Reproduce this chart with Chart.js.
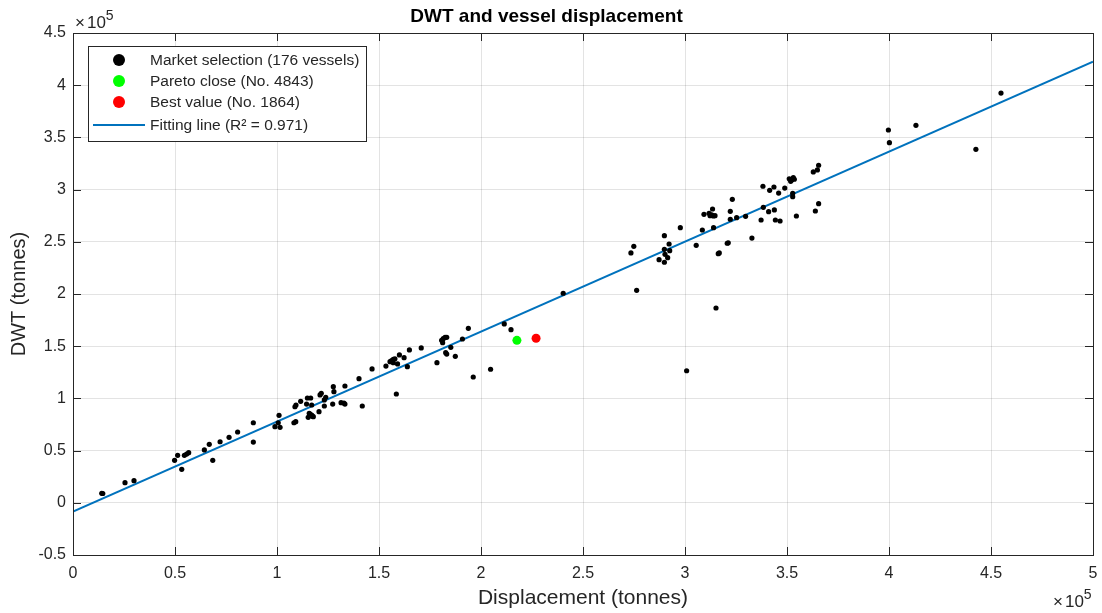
<!DOCTYPE html>
<html>
<head>
<meta charset="utf-8">
<script src="https://cdn.jsdelivr.net/npm/chart.js@4/dist/chart.umd.min.js"></script>
<style>
  html, body { margin: 0; padding: 0; background: #fff; }
  #wrap { width: 1102px; height: 613px; }
</style>
</head>
<body>
<div id="wrap"><canvas id="myChart"></canvas></div>
<script>
// market vessels, displacement and DWT in tonnes
const marketDisp = [
  14100, 14600, 25500, 29900, 49800, 51300, 53300, 54600, 55700, 56700,
  64400, 66800, 68500, 72100, 76500, 80700, 88400, 88400, 99000, 101000,
  101500, 100600, 108300, 109200, 108800, 109300, 111600, 114500, 114900, 116500,
  115800, 115300, 117000, 117800, 117000, 120600, 121100, 121700, 123200, 123900,
  123200, 127600, 127900, 127300, 131400, 133300, 133300, 116200, 117300, 132800,
  140200, 141800, 146600, 153400, 155400, 156200, 157000, 157800, 159100, 158500,
  160000, 162300, 163900, 164900, 170700, 178400, 180700, 181500, 182400, 183200,
  181200, 182700, 183200, 185200, 187400, 190900, 193800, 196200, 204700, 211400,
  214700, 157000, 240300, 276300, 273500, 274900, 287300, 289900, 289900, 290200,
  291500, 292200, 292500, 297700, 305500, 308500, 309300, 311800, 312300, 313100,
  313900, 314700, 313500, 314000, 316300, 316800, 320700, 321200, 322200, 322200,
  323200, 325300, 329700, 332800, 337300, 338200, 338400, 341000, 341500, 343600,
  343800, 344300, 345900, 346600, 348900, 351100, 351800, 352300, 353100, 353600,
  352800, 352800, 354600, 362900, 364900, 365500, 363900, 365500, 399700, 400200,
  413200, 442600, 454900, 315200, 300800, 289900
];
const marketDwt = [
  9100, 8900, 19300, 21200, 40700, 45500, 32100, 45500, 46700, 48000,
  50600, 56000, 40700, 58500, 62700, 67800, 76700, 58200, 72900, 83800,
  72300, 76700, 76700, 77700, 92000, 93700, 97200, 94600, 100400, 100400,
  85700, 81900, 84100, 82500, 93700, 87300, 103300, 104900, 98500, 101000,
  92700, 111200, 106400, 94600, 95900, 94600, 111900, 85000, 83000, 95500,
  118900, 92700, 128200, 131000, 135200, 136100, 137400, 138000, 133000, 104200,
  141600, 139000, 130400, 146400, 148300, 134200, 155600, 157200, 158500, 158500,
  153400, 143800, 142500, 148900, 140300, 156900, 167100, 120500, 127900, 171300,
  165800, 134200, 200700, 203500, 239300, 245700, 232900, 255900, 230400, 238000,
  234800, 247900, 241500, 263500, 246600, 261300, 276300, 277300, 275000, 275700,
  274700, 275000, 281400, 263500, 238600, 239300, 248600, 249000, 279200, 271600,
  290700, 273100, 274400, 253600, 270900, 303200, 283000, 278900, 299300, 302500,
  280500, 270900, 296700, 269900, 301500, 310400, 307900, 309200, 311400, 309900,
  296400, 293200, 274700, 316900, 318800, 323300, 279500, 286500, 357100, 344900,
  361600, 338600, 392500, 186600, 126500, 242800
];
const paretoDisp = [217600];
const paretoDwt = [155600];
const bestDisp = [227000];
const bestDwt = [157600];
// fitted line end points
const fitDisp = [0, 500000];
const fitDwt = [-8500, 422500];

const xTicks = [0, 50000, 100000, 150000, 200000, 250000, 300000, 350000, 400000, 450000, 500000];
const yTicks = [-50000, 0, 50000, 100000, 150000, 200000, 250000, 300000, 350000, 400000, 450000];

const labels = ['Market selection (176 vessels)', 'Pareto close (No. 4843)', 'Best value (No. 1864)', 'Fitting line (R\u00B2 = 0.971)'];

const toPts = (xs, ys) => xs.map((x, i) => ({x: x, y: ys[i]}));
const fmt = v => String(Math.round(v / 1e4) / 10);

const axisColor = '#262626';
const fontFam = '"Liberation Sans", Arial, Helvetica, sans-serif';

// draws "x10^5" with its left edge at x
function drawExp(c, x, base) {
  c.font = '17px ' + fontFam;
  c.fillText('\u00D7', x, base);
  const w1 = c.measureText('\u00D7').width + 2;
  c.fillText('10', x + w1, base);
  const w2 = c.measureText('10').width;
  c.font = '14px ' + fontFam;
  c.fillText('5', x + w1 + w2, base - 8);
}

// MATLAB-like box, inward ticks, exponent labels and legend
const matlabBits = {
  id: 'matlabBits',
  afterDraw(chart) {
    const c = chart.ctx;
    const a = chart.chartArea;
    const xs = chart.scales.x, ys = chart.scales.y;
    c.save();
    c.strokeStyle = axisColor;
    c.lineWidth = 1;
    c.beginPath();
    c.rect(Math.round(a.left) + 0.5, Math.round(a.top) + 0.5, Math.round(a.right - a.left), Math.round(a.bottom - a.top));
    c.stroke();
    c.beginPath();
    xTicks.forEach(v => {
      const px = Math.round(xs.getPixelForValue(v)) + 0.5;
      c.moveTo(px, a.bottom); c.lineTo(px, a.bottom - 8);
      c.moveTo(px, a.top); c.lineTo(px, a.top + 8);
    });
    yTicks.forEach(v => {
      const py = Math.round(ys.getPixelForValue(v)) + 0.5;
      c.moveTo(a.left, py); c.lineTo(a.left + 8, py);
      c.moveTo(a.right, py); c.lineTo(a.right - 8, py);
    });
    c.stroke();

    // x10^5 exponent labels
    c.fillStyle = axisColor;
    c.textBaseline = 'alphabetic';
    c.textAlign = 'left';
    drawExp(c, a.left + 2, 28);
    drawExp(c, a.right - 40, 607);

    // legend box
    const lx = a.left + 15, ly = a.top + 13, lw = 278, lh = 95;
    c.fillStyle = '#fff';
    c.fillRect(lx, ly, lw, lh);
    c.strokeStyle = axisColor;
    c.strokeRect(lx + 0.5, ly + 0.5, lw, lh);
    const rows = [ly + 14, ly + 35, ly + 56, ly + 79];
    const ds = chart.data.datasets;
    c.font = '15.5px ' + fontFam;
    c.textBaseline = 'middle';
    ds.forEach((d, i) => {
      const ry = rows[i];
      if (d.type === 'line') {
        c.strokeStyle = d.borderColor;
        c.lineWidth = 2;
        c.beginPath();
        c.moveTo(lx + 5, ry); c.lineTo(lx + 57, ry);
        c.stroke();
      } else {
        c.fillStyle = d.backgroundColor;
        c.beginPath();
        c.arc(lx + 31, ry, 6, 0, Math.PI * 2);
        c.fill();
      }
      c.fillStyle = axisColor;
      c.fillText(d.label, lx + 62, ry + 1);
    });
    c.restore();
  }
};

const ctx = document.getElementById('myChart').getContext('2d');
const myChart = new Chart(ctx, {
  type: 'scatter',
  data: {
    datasets: [
      {
        label: labels[0],
        data: toPts(marketDisp, marketDwt),
        backgroundColor: '#000000',
        borderColor: '#000000',
        pointRadius: 2.6,
        borderWidth: 0,
        order: 2
      },
      {
        label: labels[1],
        data: toPts(paretoDisp, paretoDwt),
        backgroundColor: '#00ff00',
        borderColor: '#00ff00',
        pointRadius: 4.5,
        borderWidth: 0,
        order: 1
      },
      {
        label: labels[2],
        data: toPts(bestDisp, bestDwt),
        backgroundColor: '#ff0000',
        borderColor: '#ff0000',
        pointRadius: 4.5,
        borderWidth: 0,
        order: 1
      },
      {
        type: 'line',
        label: labels[3],
        data: toPts(fitDisp, fitDwt),
        borderColor: '#0072BD',
        backgroundColor: '#0072BD',
        borderWidth: 2,
        pointRadius: 0,
        fill: false,
        order: 3
      }
    ]
  },
  options: {
    responsive: true,
    maintainAspectRatio: false,
    animation: false,
    layout: { padding: { left: 0, right: 9, top: 0, bottom: 0 } },
    plugins: {
      legend: { display: false },
      tooltip: { enabled: false },
      title: {
        display: true,
        text: 'DWT and vessel displacement',
        color: '#000',
        font: { family: fontFam, size: 19, weight: 'bold' },
        padding: { top: 5.5, bottom: 4.7 }
      }
    },
    scales: {
      x: {
        type: 'linear',
        min: 0,
        max: 500000,
        afterBuildTicks: s => { s.ticks = xTicks.map(v => ({value: v})); },
        afterFit: s => { s.height = 58; s.paddingRight = 0; s.paddingLeft = 0; },
        ticks: {
          color: axisColor,
          font: { family: fontFam, size: 16 },
          padding: 9,
          maxRotation: 0,
          callback: v => fmt(v)
        },
        grid: { color: 'rgba(38,38,38,0.13)', drawTicks: false },
        border: { color: axisColor },
        title: {
          display: true,
          text: 'Displacement (tonnes)',
          color: axisColor,
          font: { family: fontFam, size: 21 },
          padding: { top: 0, bottom: 2 }
        }
      },
      y: {
        type: 'linear',
        min: -50000,
        max: 450000,
        afterBuildTicks: s => { s.ticks = yTicks.map(v => ({value: v})); },
        afterFit: s => { s.width = 73; },
        ticks: {
          color: axisColor,
          font: { family: fontFam, size: 16 },
          padding: 7,
          callback: v => fmt(v)
        },
        grid: { color: 'rgba(38,38,38,0.13)', drawTicks: false },
        border: { color: axisColor },
        title: {
          display: true,
          text: 'DWT (tonnes)',
          color: axisColor,
          font: { family: fontFam, size: 20 },
          padding: { top: 7, bottom: 0 }
        }
      }
    }
  },
  plugins: [matlabBits]
});
</script>
</body>
</html>
